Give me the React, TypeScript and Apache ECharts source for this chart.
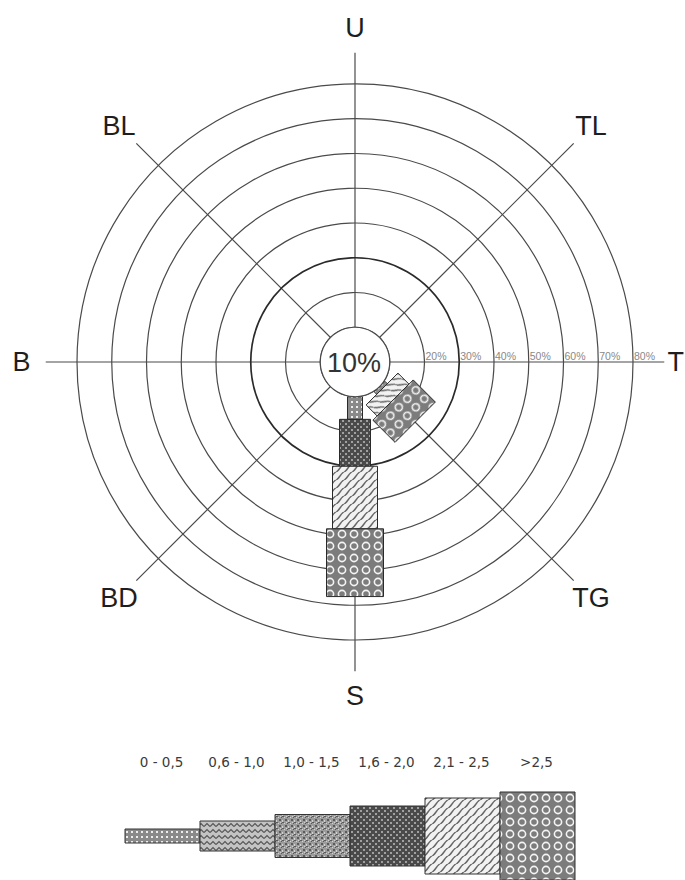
import React, { useEffect, useRef } from 'react';
import * as echarts from 'echarts';

// Wind directions, clockwise from the top
const directions = ['U', 'TL', 'T', 'TG', 'S', 'BD', 'B', 'BL'];
// Speed classes (m/s)
const speedClasses = ['0 - 0,5', '0,6 - 1,0', '1,0 - 1,5', '1,6 - 2,0', '2,1 - 2,5', '>2,5'];
// Frequency (%) per speed class, one value per direction (order of `directions`)
const freq0to05 = [0, 0, 0, 1, 6.5, 0, 0, 0];
const freq06to10 = [0, 0, 0, 0, 0, 0, 0, 0];
const freq10to15 = [0, 0, 0, 0, 0, 0, 0, 0];
const freq16to20 = [0, 0, 0, 0, 13.5, 0, 0, 0];
const freq21to25 = [0, 0, 0, 4.5, 18, 0, 0, 0];
const freqOver25 = [0, 0, 0, 9, 19.5, 0, 0, 0];
const classFreqs = [freq0to05, freq06to10, freq10to15, freq16to20, freq21to25, freqOver25];
// Calm percentage (centre circle)
const calmPercent = 10;
const calmLabel = '10%';
// Rings and their labels
const ringValues = [10, 20, 30, 40, 50, 60, 70, 80];
const ringLabels = ['10%', '20%', '30%', '40%', '50%', '60%', '70%', '80%'];

// styling (not data)
const roseWidths = [15, 20, 26, 31, 45, 57];
const legendHeights = [14, 30, 43, 60, 76, 88];

function tile(w: number, h: number, draw: (g: CanvasRenderingContext2D) => void) {
  const c = document.createElement('canvas');
  c.width = w;
  c.height = h;
  const g = c.getContext('2d') as CanvasRenderingContext2D;
  draw(g);
  return { image: c.toDataURL(), repeat: 'repeat', imageWidth: w, imageHeight: h };
}

function makePatterns() {
  const p0 = tile(5, 5, (g) => {
    g.fillStyle = '#8a8a8a';
    g.fillRect(0, 0, 5, 5);
    g.fillStyle = '#eeeeee';
    g.fillRect(1, 1, 2, 2);
  });
  const p1 = tile(6, 6, (g) => {
    g.fillStyle = '#c4c4c4';
    g.fillRect(0, 0, 6, 6);
    g.strokeStyle = '#555';
    g.lineWidth = 1.2;
    g.beginPath();
    g.moveTo(0, 4.5);
    g.lineTo(3, 1.5);
    g.lineTo(6, 4.5);
    g.stroke();
  });
  const p2 = tile(6, 6, (g) => {
    g.fillStyle = '#9c9c9c';
    g.fillRect(0, 0, 6, 6);
    g.fillStyle = '#5a5a5a';
    g.fillRect(0, 0, 2, 1);
    g.fillRect(3, 3, 2, 2);
    g.fillRect(5, 1, 1, 1);
    g.fillStyle = '#d2d2d2';
    g.fillRect(2, 1, 1, 1);
    g.fillRect(0, 4, 1, 2);
    g.fillRect(4, 0, 1, 1);
  });
  const p3 = tile(6, 6, (g) => {
    g.fillStyle = '#4a4a4a';
    g.fillRect(0, 0, 6, 6);
    g.fillStyle = '#a0a0a0';
    g.fillRect(0, 0, 2, 2);
    g.fillRect(3, 3, 2, 2);
  });
  const p4 = tile(8, 8, (g) => {
    g.fillStyle = '#f2f2f2';
    g.fillRect(0, 0, 8, 8);
    g.strokeStyle = '#666';
    g.lineWidth = 1.4;
    for (const o of [-8, 0, 8]) {
      g.beginPath();
      g.moveTo(o - 1, 9);
      g.quadraticCurveTo(o + 2, 7, o + 4, 4);
      g.quadraticCurveTo(o + 6, 1, o + 9, -1);
      g.stroke();
    }
  });
  const p5 = tile(12, 12, (g) => {
    g.fillStyle = '#7c7c7c';
    g.fillRect(0, 0, 12, 12);
    g.strokeStyle = '#f4f4f4';
    g.lineWidth = 1.6;
    g.beginPath();
    g.arc(6, 6, 3.6, 0, Math.PI * 2);
    g.stroke();
  });
  return [p0, p1, p2, p3, p4, p5];
}

const CHART_W = 685;

export default function App() {
  const ref = useRef<HTMLDivElement>(null);

  useEffect(() => {
    if (!ref.current) return;
    const chart = echarts.init(ref.current, undefined, { renderer: 'svg' });
    const patterns = makePatterns();

    // stacked bar segments: [start, dirIndex, end, classIndex]
    const barData: number[][] = [];
    directions.forEach((_, d) => {
      let cum = calmPercent;
      classFreqs.forEach((arr, c) => {
        const v = arr[d];
        if (v > 0) {
          barData.push([cum, d, cum + v, c]);
          cum += v;
        }
      });
    });

    const lineColor = '#4a4a4a';

    const legendLeft = 125;
    const legendStep = 75;
    const legendCy = 836;
    const legendElements: any[] = [];
    speedClasses.forEach((name, i) => {
      const h = legendHeights[i];
      const x = legendLeft + i * legendStep;
      legendElements.push({
        type: 'rect',
        shape: { x, y: legendCy - h / 2, width: legendStep, height: h },
        style: { fill: patterns[i], stroke: '#333', lineWidth: 1 },
      });
      legendElements.push({
        type: 'text',
        x: x + legendStep / 2 - 1,
        y: 762,
        style: {
          text: name,
          align: 'center',
          verticalAlign: 'middle',
          fill: '#3a3a3a',
          font: '13.5px "DejaVu Sans", "Open Sans", sans-serif',
        },
      });
    });

    chart.setOption({
      animation: false,
      polar: { center: [355, 362], radius: [0, 278] },
      angleAxis: {
        type: 'category',
        data: directions,
        startAngle: 112.5,
        clockwise: true,
        axisLine: { show: false },
        axisTick: { show: false },
        splitLine: { show: false },
        axisLabel: { show: false },
      },
      radiusAxis: {
        type: 'value',
        min: 0,
        max: 80,
        interval: 10,
        axisLine: { show: false },
        axisTick: { show: false },
        axisLabel: { show: false },
        splitLine: { show: false },
      },
      series: [
        {
          type: 'custom',
          coordinateSystem: 'polar',
          z: 1,
          data: directions.map((_, i) => [0, i]),
          renderItem: (params: any, api: any) => {
            const d = api.value(1);
            const p0 = api.coord([0, d]);
            const p1 = api.coord([89, d]);
            const pl = api.coord([96, d]);
            let lx = pl[0];
            let align = 'center';
            if (lx + 9 > CHART_W - 1) {
              lx = CHART_W - 1;
              align = 'right';
            }
            return {
              type: 'group',
              children: [
                {
                  type: 'line',
                  shape: { x1: p0[0], y1: p0[1], x2: p1[0], y2: p1[1] },
                  style: { stroke: lineColor, lineWidth: 1.2 },
                },
                {
                  type: 'text',
                  x: lx,
                  y: pl[1],
                  style: {
                    text: directions[d],
                    align,
                    verticalAlign: 'middle',
                    fill: '#1e1e1e',
                    font: '27px "Liberation Sans", Arial, sans-serif',
                  },
                },
              ],
            };
          },
        },
        {
          type: 'custom',
          coordinateSystem: 'polar',
          z: 2,
          data: ringValues.map((v, i) => [v, 2, i]),
          renderItem: (params: any, api: any) => {
            const v = api.value(0);
            const i = api.value(2);
            const c = api.coord([0, 0]);
            const p = api.coord([v, 2]);
            const r = Math.hypot(p[0] - c[0], p[1] - c[1]);
            const children: any[] = [
              {
                type: 'circle',
                shape: { cx: c[0], cy: c[1], r },
                style: { fill: 'none', stroke: v === 30 ? '#2a2a2a' : lineColor, lineWidth: v === 30 ? 1.7 : 1.2 },
              },
            ];
            if (v !== calmPercent) {
              children.push({
                type: 'text',
                x: p[0] + 1,
                y: p[1] - 1,
                style: {
                  text: ringLabels[i],
                  align: 'left',
                  verticalAlign: 'bottom',
                  fill: '#888',
                  font: '10.5px "Liberation Sans", Arial, sans-serif',
                },
              });
            }
            return { type: 'group', children };
          },
        },
        {
          type: 'custom',
          coordinateSystem: 'polar',
          z: 3,
          data: barData,
          renderItem: (params: any, api: any) => {
            const r0 = api.value(0);
            const d = api.value(1);
            const r1 = api.value(2);
            const c = api.value(3);
            const p0 = api.coord([r0, d]);
            const p1 = api.coord([r1, d]);
            const len = Math.hypot(p1[0] - p0[0], p1[1] - p0[1]) || 1;
            const ux = (p1[0] - p0[0]) / len;
            const uy = (p1[1] - p0[1]) / len;
            const nx = -uy;
            const ny = ux;
            const hw = roseWidths[c] / 2;
            const pts = [
              [p0[0] + nx * hw, p0[1] + ny * hw],
              [p1[0] + nx * hw, p1[1] + ny * hw],
              [p1[0] - nx * hw, p1[1] - ny * hw],
              [p0[0] - nx * hw, p0[1] - ny * hw],
            ];
            const fill = { ...patterns[c], rotation: Math.atan2(ux, uy) };
            return {
              type: 'polygon',
              shape: { points: pts },
              style: { fill, stroke: '#2a2a2a', lineWidth: 1 },
            };
          },
        },
        {
          type: 'custom',
          coordinateSystem: 'polar',
          z: 4,
          data: [[calmPercent, 0]],
          renderItem: (params: any, api: any) => {
            const c = api.coord([0, 0]);
            const p = api.coord([api.value(0), 0]);
            const r = Math.hypot(p[0] - c[0], p[1] - c[1]);
            return {
              type: 'group',
              children: [
                {
                  type: 'circle',
                  shape: { cx: c[0], cy: c[1], r },
                  style: { fill: '#fff', stroke: lineColor, lineWidth: 1.2 },
                },
                {
                  type: 'text',
                  x: c[0] - 1,
                  y: c[1] + 1,
                  style: {
                    text: calmLabel,
                    align: 'center',
                    verticalAlign: 'middle',
                    fill: '#333',
                    font: '27px "Liberation Sans", Arial, sans-serif',
                  },
                },
              ],
            };
          },
        },
      ],
      graphic: { elements: legendElements },
    });

    return () => chart.dispose();
  }, []);

  return (
    <div
      ref={ref}
      style={{ position: 'absolute', left: 0, top: 0, width: CHART_W, height: 880, background: '#fff' }}
    />
  );
}
